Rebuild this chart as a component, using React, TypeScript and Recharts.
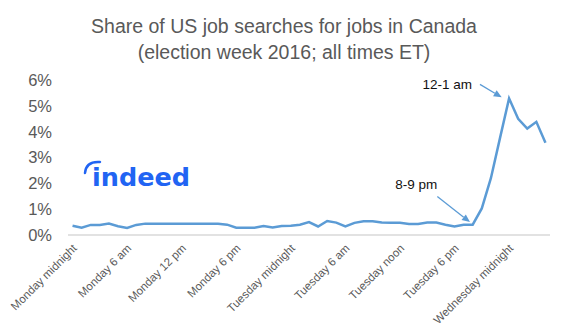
import React from "react";
import { LineChart, Line, XAxis, YAxis, ReferenceLine } from "recharts";

// Hours since Monday midnight (ET)
const hours = [
  0, 1, 2, 3, 4, 5, 6, 7, 8, 9, 10, 11, 12, 13, 14, 15, 16, 17, 18, 19, 20, 21, 22, 23,
  24, 25, 26, 27, 28, 29, 30, 31, 32, 33, 34, 35, 36, 37, 38, 39, 40, 41, 42, 43, 44, 45,
  46, 47, 48, 49, 50, 51, 52,
];

// Share of US job searches for jobs in Canada (%)
const share = [
  0.36, 0.28, 0.39, 0.39, 0.44, 0.34, 0.27, 0.39, 0.44, 0.44, 0.44, 0.44, 0.44, 0.44, 0.44, 0.44,
  0.44, 0.4, 0.28, 0.28, 0.28, 0.35, 0.29, 0.35, 0.36, 0.4, 0.5, 0.33, 0.54, 0.48, 0.33, 0.47,
  0.53, 0.53, 0.48, 0.47, 0.47, 0.43, 0.43, 0.48, 0.48, 0.4, 0.33, 0.4, 0.4, 1.03, 2.2, 3.75,
  5.29, 4.5, 4.12, 4.38, 3.57,
];

const tickHours = [0, 6, 12, 18, 24, 30, 36, 42, 48];
const tickLabels = [
  "Monday midnight",
  "Monday 6 am",
  "Monday 12 pm",
  "Monday 6 pm",
  "Tuesday midnight",
  "Tuesday 6 am",
  "Tuesday noon",
  "Tuesday 6 pm",
  "Wednesday midnight",
];
const yTicks = [0, 1, 2, 3, 4, 5, 6];

// Annotations: [label, startHour, startValue, endHour, endValue]
const annotations: [string, number, number, number, number, "above" | "left"][] = [
  ["12-1 am", 44.8, 5.83, 47.19, 5.33, "left"],
  ["8-9 pm", 40.11, 1.49, 43.7, 0.5, "above"],
];

const data = hours.map((h, i) => ({ hour: h, share: share[i] }));

const BLUE = "#5b9bd5";
const GREY = "#595959";
const FONT = "'Liberation Sans', Arial, Helvetica, sans-serif";

const XTick = (props: any) => {
  const { x, y, payload } = props;
  const idx = tickHours.indexOf(payload.value);
  const label = idx >= 0 ? tickLabels[idx] : "";
  return (
    <g transform={`translate(${x + 5},${y + 14}) rotate(-45)`}>
      <text x={0} y={0} textAnchor="end" fill={GREY} fontSize={11.5} fontFamily={FONT}>
        {label}
      </text>
    </g>
  );
};

const makeArrow = (label: string, pos: "above" | "left") => (props: any) => {
  const { x1, y1, x2, y2 } = props;
  if ([x1, y1, x2, y2].some((v) => v === undefined || Number.isNaN(v))) return <g />;
  const ang = Math.atan2(y2 - y1, x2 - x1);
  const len = 8;
  const w = 3.5;
  const bx = x2 - len * Math.cos(ang);
  const by = y2 - len * Math.sin(ang);
  const px = -Math.sin(ang) * w;
  const py = Math.cos(ang) * w;
  const tx = pos === "left" ? x1 - 8 : x1 - 21;
  const ty = pos === "left" ? y1 + 5 : y1 - 8;
  return (
    <g>
      <line x1={x1} y1={y1} x2={bx} y2={by} stroke={BLUE} strokeWidth={1.3} />
      <polygon
        points={`${x2},${y2} ${bx + px},${by + py} ${bx - px},${by - py}`}
        fill={BLUE}
      />
      <text
        x={tx}
        y={ty}
        textAnchor={pos === "left" ? "end" : "middle"}
        fill="#111"
        fontSize={13.5}
        fontFamily={FONT}
      >
        {label}
      </text>
    </g>
  );
};

export default function App() {
  return (
    <div
      style={{
        position: "absolute",
        left: 0,
        top: 0,
        width: 569,
        height: 330,
        background: "#fff",
      }}
    >
      <LineChart
        width={569}
        height={330}
        data={data}
        margin={{ top: 80, right: 19, bottom: 0, left: 0 }}
      >
        <XAxis
          dataKey="hour"
          type="number"
          domain={[-0.5, 52.5]}
          ticks={tickHours}
          interval={0}
          height={95}
          tickLine={false}
          tickSize={0}
          tickMargin={0}
          axisLine={{ stroke: "#d9d9d9", strokeWidth: 1.5 }}
          tick={<XTick />}
        />
        <YAxis
          type="number"
          domain={[0, 6]}
          ticks={yTicks}
          width={68}
          axisLine={false}
          tickLine={false}
          tickSize={0}
          tickMargin={16}
          tickFormatter={(v: number) => `${v}%`}
          tick={{ fill: GREY, fontSize: 16.5, fontFamily: FONT }}
        />
        {annotations.map(([label, xs, ys, xe, ye, pos]) => (
          <ReferenceLine
            key={label}
            segment={[
              { x: xs, y: ys },
              { x: xe, y: ye },
            ]}
            ifOverflow="visible"
            shape={makeArrow(label, pos)}
          />
        ))}
        <Line
          type="linear"
          dataKey="share"
          stroke={BLUE}
          strokeWidth={2.5}
          dot={false}
          isAnimationActive={false}
        />
      </LineChart>
      <svg
        width={569}
        height={330}
        style={{ position: "absolute", left: 0, top: 0, pointerEvents: "none" }}
      >
        <text
          x={284}
          y={33}
          textAnchor="middle"
          fill={GREY}
          fontSize={19.5}
          fontFamily={FONT}
        >
          Share of US job searches for jobs in Canada
        </text>
        <text
          x={284}
          y={59}
          textAnchor="middle"
          fill={GREY}
          fontSize={19.5}
          fontFamily={FONT}
        >
          (election week 2016; all times ET)
        </text>
        <path
          d="M85,173 Q86,161 100,162"
          fill="none"
          stroke="#2164f3"
          strokeWidth={2.5}
          strokeLinecap="round"
        />
        <text
          x={92}
          y={186}
          fill="#2164f3"
          fontSize={25.5}
          fontWeight="bold"
          fontFamily="'DejaVu Sans', sans-serif"
        >
          indeed
        </text>
      </svg>
    </div>
  );
}
